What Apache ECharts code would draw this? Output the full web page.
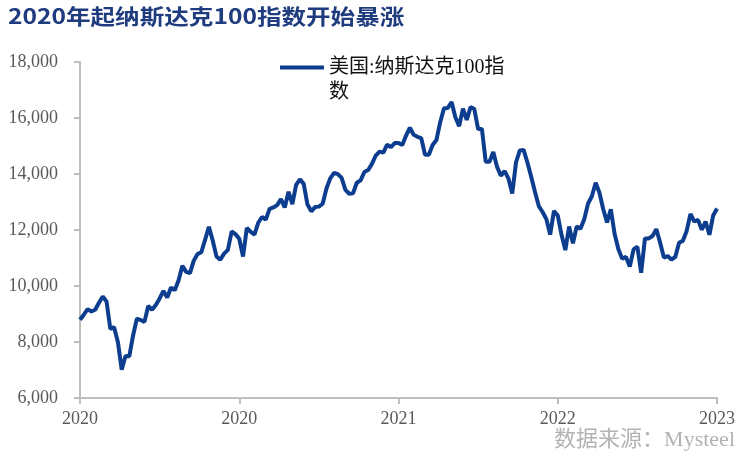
<!DOCTYPE html>
<html>
<head>
<meta charset="utf-8">
<script src="https://cdn.jsdelivr.net/npm/echarts@6/dist/echarts.min.js"></script>
<style>
  html, body { margin: 0; padding: 0; background: #fff; }
  #chart { width: 740px; height: 454px; }
</style>
</head>
<body>
<div id="chart"></div>
<script>
// weekly closes, one array per year
var v2020 = [8793, 8973, 9174, 9090, 9151, 9402, 9623, 9446, 8462, 8530, 7995, 7006, 7502, 7487, 8233, 8833,
  8784, 8718, 9285, 9152, 9325, 9556, 9824, 9589, 9946, 9849, 10208, 10719, 10504, 10460, 10905, 11139,
  11205, 11656, 12111, 11623, 11057, 10940, 11156, 11288, 11950, 11853, 11687, 11052, 12070, 11938, 11836,
  12258, 12465, 12375, 12755, 12804, 12888]
var v2021 = [13105, 12803, 13366, 12925, 13613, 13807, 13647, 12909, 12668, 12819, 12835, 12938, 13480, 13845,
  14041, 13996, 13861, 13432, 13295, 13308, 13687, 13774, 14069, 14141, 14361, 14660, 14800, 14763, 15047,
  14960, 15105, 15106, 15034, 15372, 15653, 15403, 15327, 15281, 14687, 14689, 15036, 15214, 15850, 16346,
  16359, 16573, 16026, 15711, 16336, 15932, 16390, 16320]
var v2022 = [15603, 15611, 14438, 14441, 14786, 14253, 13942, 14104, 13838, 13301, 14420, 14841, 14861, 14410,
  13898, 13357, 12855, 12644, 12387, 11835, 12682, 12518, 11828, 11281, 12126, 11523, 12126, 12042, 12395,
  12947, 13205, 13686, 13330, 12742, 12271, 12740, 11857, 11311, 10971, 11039, 10692, 11310, 11404, 10475,
  11700, 11700, 11785, 12030, 11548, 11016, 11071, 10940]
var v2023 = [11040, 11541, 11619, 11967, 12573, 12304, 12359, 12009, 12302, 11830, 12520, 12767]
var years = ['2020', '2021', '2022', '2023']
var yTicks = [6000, 18000, 2000] // min, max, step
var seriesName = '美国:纳斯达克100指数'
var titleText = '2020年起纳斯达克100指数开始暴涨'
var sourceText = '数据来源：Mysteel'

var categories = []
var values = []
;[v2020, v2021, v2022, v2023].forEach(function(arr, yi) {
  arr.forEach(function(v, wi) {
    categories.push(years[yi] + '-W' + (wi + 1))
    values.push(v)
  })
})

var serif = '"Liberation Serif", "Times New Roman", "Noto Sans CJK SC", serif'
var chart = echarts.init(document.getElementById('chart'))
chart.setOption({
  animation: false,
  backgroundColor: '#fff',
  grid: { left: 80, right: 23, top: 62, bottom: 56 },
  graphic: [
    {
      type: 'text',
      x: 8,
      y: 6,
      scaleX: 1.17,
      style: {
        text: titleText,
        font: 'bold 21px "Noto Sans CJK SC", sans-serif',
        fill: '#1f3c7e'
      }
    },
    {
      type: 'text',
      right: 5,
      bottom: 3,
      style: {
        text: sourceText,
        font: '22px ' + serif,
        fill: '#b3b3b3'
      }
    }
  ],
  legend: {
    left: 275,
    top: 25,
    itemWidth: 44,
    itemHeight: 4,
    itemGap: 6,
    icon: 'rect',
    data: [seriesName],
    // blank first line keeps the icon level with the first text line
    formatter: function() { return ' \n美国:纳斯达克100指\n数' },
    textStyle: {
      fontFamily: serif,
      fontSize: 20,
      color: '#111',
      lineHeight: 25
    }
  },
  xAxis: {
    type: 'category',
    data: categories,
    boundaryGap: false,
    axisLine: { lineStyle: { color: '#bfbfbf', width: 2 } },
    axisTick: { show: true, interval: 41, length: 6, lineStyle: { color: '#bfbfbf', width: 2 } },
    axisLabel: {
      interval: 41,
      margin: 12,
      fontFamily: serif,
      fontSize: 18,
      color: '#595959',
      showMaxLabel: true,
      formatter: function(v) { return v.slice(0, 4) }
    },
    splitLine: { show: false }
  },
  yAxis: {
    type: 'value',
    min: yTicks[0],
    max: yTicks[1],
    interval: yTicks[2],
    axisLine: { show: true, lineStyle: { color: '#bfbfbf', width: 2 } },
    axisTick: { show: true, length: 6, lineStyle: { color: '#bfbfbf', width: 2 } },
    axisLabel: {
      margin: 22,
      fontFamily: serif,
      fontSize: 18,
      color: '#595959',
      formatter: function(v) { return v.toLocaleString('en-US') }
    },
    splitLine: { show: false }
  },
  series: [
    {
      name: seriesName,
      type: 'line',
      data: values,
      showSymbol: false,
      symbol: 'none',
      lineStyle: { color: '#0d3d8e', width: 4 },
      itemStyle: { color: '#0d3d8e' }
    }
  ]
})
</script>
</body>
</html>
